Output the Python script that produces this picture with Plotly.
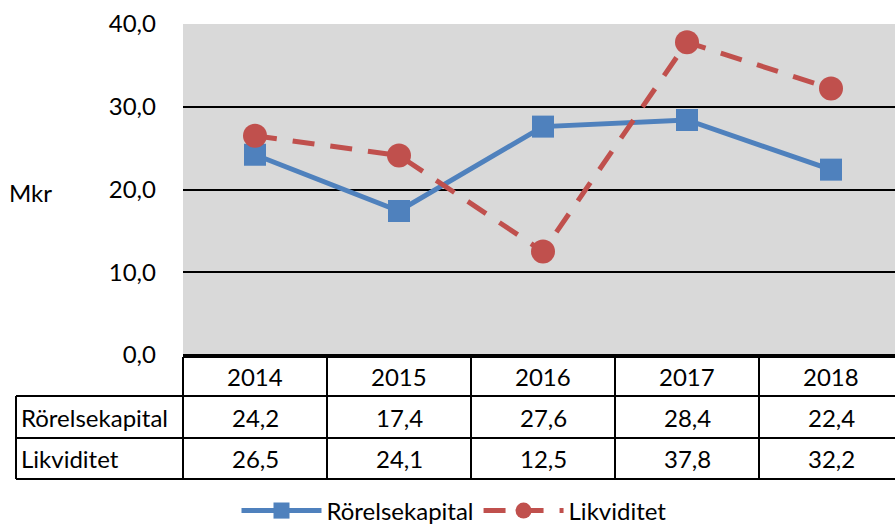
import plotly.graph_objects as go

years = ["2014", "2015", "2016", "2017", "2018"]
rorelsekapital = [24.2, 17.4, 27.6, 28.4, 22.4]
likviditet = [26.5, 24.1, 12.5, 37.8, 32.2]
series_names = ["Rörelsekapital", "Likviditet"]
y_ticks = [0, 10, 20, 30, 40]
unit_label = "Mkr"

W, H = 895, 527
PL, PR, PT, PB = 183, 895, 24, 355  # plot area pixels
FONT = "Lato"
FS = 24

def px(x):
    return (x - PL) / (PR - PL)

def py(y):
    return (PB - y) / (PB - PT)

fig = go.Figure()
fig.add_trace(go.Scatter(
    x=list(range(len(years))), y=rorelsekapital, name=series_names[0],
    mode="lines+markers",
    line=dict(color="#4F81BD", width=5),
    marker=dict(symbol="square", size=22, color="#4F81BD"),
))
fig.add_trace(go.Scatter(
    x=list(range(len(years))), y=likviditet, name=series_names[1],
    mode="lines+markers",
    line=dict(color="#C0504D", width=5, dash="22px,16px"),
    marker=dict(symbol="circle", size=24, color="#C0504D"),
))

cat_w = 144
ncat = len(years)

shapes = []
line_style = dict(color="black", width=2)
col_edges = [PL + i * cat_w for i in range(ncat + 1)]
row_y = [357, 396, 438, 479]
label_left = 16
right_edge = PR + 10
shapes.append(dict(type="line", xref="paper", yref="paper", x0=px(PL), x1=px(right_edge), y0=py(row_y[0]), y1=py(row_y[0]), line=line_style))
for ry in row_y[1:]:
    shapes.append(dict(type="line", xref="paper", yref="paper", x0=px(label_left), x1=px(right_edge), y0=py(ry), y1=py(ry), line=line_style))
shapes.append(dict(type="line", xref="paper", yref="paper", x0=px(label_left), x1=px(label_left), y0=py(row_y[1]), y1=py(row_y[3]), line=line_style))
for cx in col_edges:
    if cx <= W:
        shapes.append(dict(type="line", xref="paper", yref="paper", x0=px(cx), x1=px(cx), y0=py(row_y[0]), y1=py(row_y[3]), line=line_style))

annotations = []
def fmt(v):
    return f"{v:.1f}".replace(".", ",")

for i, yr in enumerate(years):
    cx = PL + cat_w * (i + 0.5)
    annotations.append(dict(xref="paper", yref="paper", x=px(cx), y=py((row_y[0] + row_y[1]) / 2),
                            text=yr, showarrow=False, xanchor="center", yanchor="middle"))
    annotations.append(dict(xref="paper", yref="paper", x=px(cx), y=py((row_y[1] + row_y[2]) / 2),
                            text=fmt(rorelsekapital[i]), showarrow=False, xanchor="center", yanchor="middle"))
    annotations.append(dict(xref="paper", yref="paper", x=px(cx), y=py((row_y[2] + row_y[3]) / 2),
                            text=fmt(likviditet[i]), showarrow=False, xanchor="center", yanchor="middle"))
annotations.append(dict(xref="paper", yref="paper", x=px(19), y=py((row_y[1] + row_y[2]) / 2),
                        text=series_names[0], showarrow=False, xanchor="left", yanchor="middle"))
annotations.append(dict(xref="paper", yref="paper", x=px(19), y=py((row_y[2] + row_y[3]) / 2),
                        text=series_names[1], showarrow=False, xanchor="left", yanchor="middle"))
annotations.append(dict(xref="paper", yref="paper", x=px(7), y=py(192),
                        text=unit_label, showarrow=False, xanchor="left", yanchor="middle"))

fig.update_layout(
    width=W, height=H,
    margin=dict(l=PL, r=W - PR, t=PT, b=H - PB, pad=0, autoexpand=False),
    paper_bgcolor="white", plot_bgcolor="#D9D9D9",
    font=dict(family=FONT, size=FS, color="black"),
    separators=", ",
    showlegend=True,
    legend=dict(orientation="h", x=px(454), xanchor="center", y=py(511), yanchor="middle",
                font=dict(size=FS), itemwidth=80, bgcolor="rgba(0,0,0,0)"),
    shapes=shapes,
    annotations=annotations,
    xaxis=dict(range=[-0.5, -0.5 + (PR - PL) / cat_w], showgrid=False, zeroline=False,
               showticklabels=False, ticks="", fixedrange=True, automargin=False),
    yaxis=dict(range=[0, 40], tickvals=y_ticks, tickformat=".1f", showgrid=True,
               gridcolor="black", gridwidth=2, zeroline=True, zerolinecolor="black", zerolinewidth=2,
               ticks="", ticklabelstandoff=26, fixedrange=True, automargin=False),
)

fig.write_html("out.html", config={"displayModeBar": False},
               post_script="document.body.style.margin='0';document.body.style.overflow='hidden';")
